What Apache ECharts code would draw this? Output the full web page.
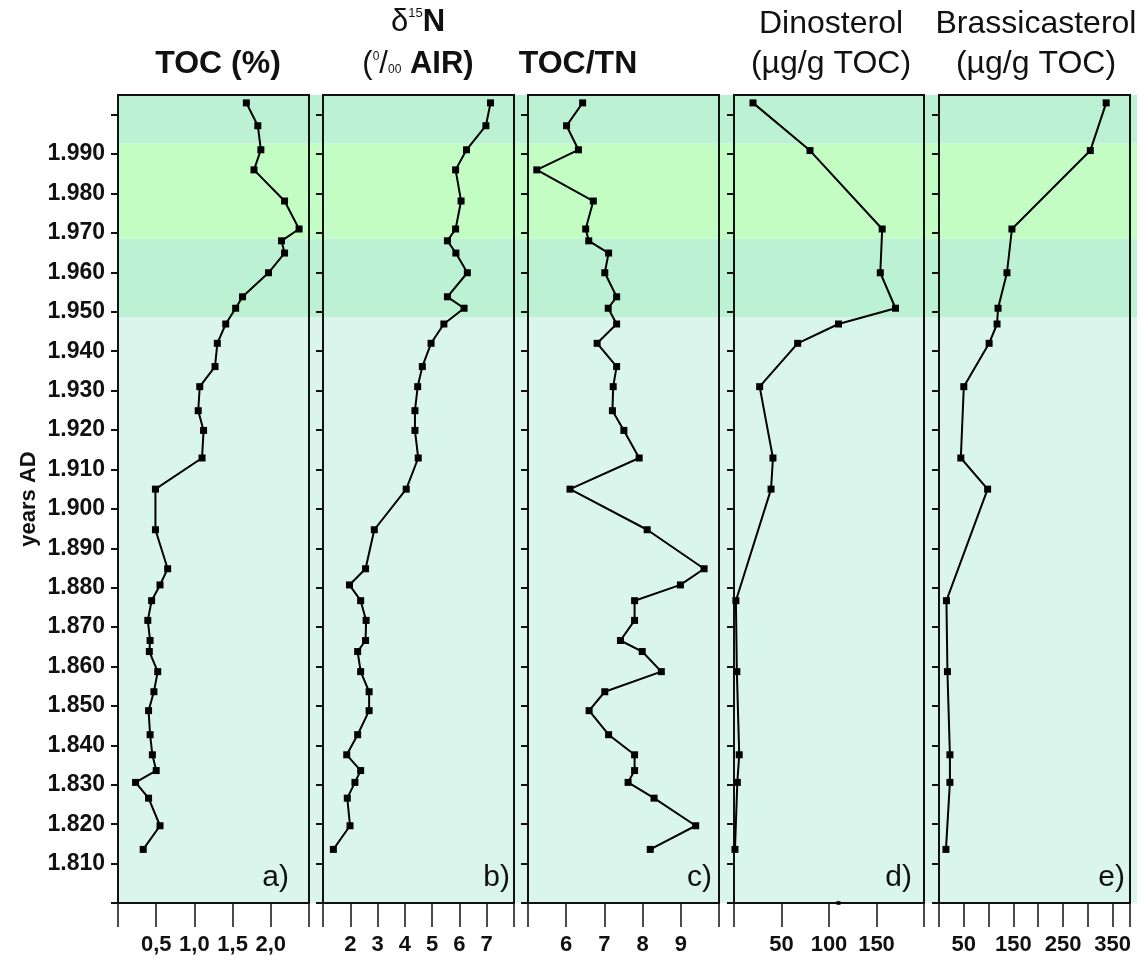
<!DOCTYPE html>
<html>
<head>
<meta charset="utf-8">
<title>Sediment core profiles</title>
<script src="https://cdn.jsdelivr.net/npm/echarts@6/dist/echarts.min.js"></script>
<style>
  html, body { margin: 0; padding: 0; background: #fff; }
  #chart { width: 1142px; height: 963px; }
</style>
</head>
<body>
<div id="chart"></div>
<script>
// sample years (AD) shared by panels a-c and by panels d-e
const yearsABC = [2003.0, 1997.2, 1991.1, 1986.0, 1978.1, 1971.0, 1968.0, 1964.9, 1959.9, 1953.8,
  1950.9, 1946.9, 1942.0, 1936.1, 1931.0, 1924.9, 1919.9, 1912.9, 1905.0, 1894.7,
  1884.8, 1880.7, 1876.7, 1871.7, 1866.6, 1863.8, 1858.7, 1853.6, 1848.8, 1842.7,
  1837.6, 1833.6, 1830.6, 1826.6, 1819.6, 1813.6];
const yearsDE = [2003.0, 1990.9, 1971.0, 1959.9, 1950.9, 1946.9, 1942.0, 1931.0, 1912.9, 1905.0,
  1876.7, 1858.7, 1837.6, 1830.6, 1813.6];

const toc = [1.68, 1.83, 1.87, 1.78, 2.18, 2.37, 2.14, 2.18, 1.97, 1.63,
  1.54, 1.41, 1.30, 1.27, 1.07, 1.05, 1.12, 1.10, 0.49, 0.49,
  0.65, 0.55, 0.44, 0.39, 0.42, 0.41, 0.52, 0.47, 0.40, 0.42,
  0.45, 0.50, 0.23, 0.40, 0.55, 0.33];
const d15N = [7.14, 6.97, 6.26, 5.86, 6.06, 5.86, 5.56, 5.87, 6.29, 5.56,
  6.17, 5.43, 4.96, 4.64, 4.47, 4.37, 4.37, 4.49, 4.05, 2.88,
  2.56, 1.97, 2.38, 2.58, 2.56, 2.27, 2.38, 2.69, 2.69, 2.27,
  1.87, 2.38, 2.17, 1.89, 1.99, 1.38];
const tocTn = [6.43, 6.01, 6.32, 5.23, 6.71, 6.51, 6.59, 7.11, 7.01, 7.32,
  7.10, 7.32, 6.81, 7.32, 7.23, 7.21, 7.51, 7.91, 6.10, 8.12,
  9.61, 8.99, 7.79, 7.79, 7.42, 7.99, 8.49, 7.01, 6.60, 7.11,
  7.79, 7.79, 7.62, 8.30, 9.39, 8.20];
const dinosterol = [20, 80, 156, 154, 170, 110, 67, 27, 41, 39, 2, 3, 5.5, 3.5, 1];
const brassicasterol = [337, 305, 147, 137, 119, 117, 101, 50, 44, 98, 15, 17, 22, 22, 14];
const dinoStray = [[110, 1800]];

// year ticks / labels
const yearTicks = [1800, 1810, 1820, 1830, 1840, 1850, 1860, 1870, 1880, 1890, 1900,
  1910, 1920, 1930, 1940, 1950, 1960, 1970, 1980, 1990, 2000];
const yearLabels = yearTicks.slice(1, -1);

// background period bands (top, bottom)
const bandEdges = [2005, 1992.6, 1968.5, 1948.7, 1800];
const bandColors = ['#bcf1d3', '#c3fdc3', '#bcf1d3', '#daf5eb'];

const FONT = "'Liberation Sans', Arial, sans-serif";

const panels = [
  { left: 118, width: 191, min: 0, max: 2.5, ticks: [0, 0.5, 1, 1.5, 2, 2.5], labels: [0.5, 1, 1.5, 2],
    fmt: v => v.toFixed(1).replace('.', ','), years: yearsABC, values: toc },
  { left: 323, width: 191, min: 1, max: 8, ticks: [1, 2, 3, 4, 5, 6, 7, 8], labels: [2, 3, 4, 5, 6, 7],
    fmt: v => String(v), years: yearsABC, values: d15N },
  { left: 528, width: 191, min: 5, max: 10, ticks: [5, 6, 7, 8, 9, 10], labels: [6, 7, 8, 9],
    fmt: v => String(v), years: yearsABC, values: tocTn },
  { left: 734, width: 190, min: 0, max: 200, ticks: [0, 50, 100, 150, 200], labels: [50, 100, 150],
    fmt: v => String(v), years: yearsDE, values: dinosterol },
  { left: 939, width: 191, min: 0, max: 385, ticks: [0, 50, 100, 150, 200, 250, 300, 350, 385], labels: [50, 150, 250, 350],
    fmt: v => String(v), years: yearsDE, values: brassicasterol },
];

const chart = echarts.init(document.getElementById('chart'), null, { renderer: 'canvas' });

const grid = [];
const xAxis = [];
const yAxis = [];
const series = [];

panels.forEach((p, i) => {
  grid.push({
    left: p.left, width: p.width, top: 95, bottom: 60, z: 4,
    show: true, borderColor: '#111', borderWidth: 2, backgroundColor: 'transparent',
  });
  xAxis.push({
    type: 'value', gridIndex: i, min: p.min, max: p.max, position: 'bottom',
    axisLine: { show: true, onZero: false, lineStyle: { color: '#111', width: 2 } },
    axisTick: { show: true, inside: false, length: 24, customValues: p.ticks, lineStyle: { color: '#111', width: 1.5 } },
    axisLabel: {
      show: true, customValues: p.labels, margin: 31, formatter: p.fmt,
      color: '#111', fontFamily: FONT, fontWeight: 'bold', fontSize: 22,
    },
    splitLine: { show: false },
  });
  yAxis.push({
    type: 'value', gridIndex: i, min: 1800, max: 2005,
    axisLine: { show: true, lineStyle: { color: '#111', width: 2 } },
    axisTick: { show: true, inside: false, length: 7, customValues: yearTicks, lineStyle: { color: '#111', width: 2 } },
    axisLabel: {
      show: i === 0, customValues: yearLabels, margin: 13,
      formatter: v => '1.' + String(v).slice(1),
      color: '#111', fontFamily: FONT, fontWeight: 'bold', fontSize: 23,
    },
    splitLine: { show: false },
    name: i === 0 ? 'years AD' : '',
    nameLocation: 'middle', nameGap: 78, nameRotate: 90,
    nameTextStyle: { color: '#111', fontFamily: FONT, fontWeight: 'bold', fontSize: 22 },
  });
  series.push({
    type: 'line', xAxisIndex: i, yAxisIndex: i, z: 5,
    data: p.values.map((v, k) => [v, p.years[k]]),
    symbol: 'rect', symbolSize: 7, showSymbol: true,
    lineStyle: { color: '#000', width: 2 },
    itemStyle: { color: '#000' },
    animation: false,
  });
});

// stray marker sitting on the Dinosterol baseline
series.push({
  type: 'scatter', xAxisIndex: 3, yAxisIndex: 3, z: 6,
  data: dinoStray, symbol: 'rect', symbolSize: 4,
  itemStyle: { color: '#000' }, animation: false,
});

// background bands across all panels
grid.push({ left: 118, right: 5, top: 95, bottom: 60, show: false });
xAxis.push({ type: 'value', gridIndex: 5, min: 0, max: 1, show: false });
yAxis.push({ type: 'value', gridIndex: 5, min: 1800, max: 2005, show: false });
series.push({
  type: 'line', xAxisIndex: 5, yAxisIndex: 5, data: [], z: 0, silent: true,
  markArea: {
    silent: true, z: 0,
    data: bandColors.map((c, k) => [
      { yAxis: bandEdges[k], itemStyle: { color: c } },
      { yAxis: bandEdges[k + 1] },
    ]),
  },
});

const headStyle = { fontFamily: FONT, fontSize: 32, fill: '#111', align: 'center', verticalAlign: 'middle' };

const graphic = [
  { type: 'text', x: 218, y: 64, style: Object.assign({}, headStyle, { text: 'TOC (%)', fontWeight: 'bold' }) },
  { type: 'text', x: 418, y: 22, style: Object.assign({}, headStyle, {
      text: '{n|δ}{s|15}{b|N}',
      rich: {
        n: { fontFamily: FONT, fontSize: 31, fill: '#111' },
        s: { fontFamily: FONT, fontSize: 13, fill: '#111', verticalAlign: 'top', padding: [0, 0, 12, 0] },
        b: { fontFamily: FONT, fontSize: 31, fontWeight: 'bold', fill: '#111' },
      } }) },
  { type: 'text', x: 418, y: 64, style: Object.assign({}, headStyle, {
      text: '{n|(}{s|0}{n|/}{u|00}{b| AIR)}',
      rich: {
        n: { fontFamily: FONT, fontSize: 31, fill: '#111' },
        s: { fontFamily: FONT, fontSize: 12, fill: '#111', padding: [0, 0, 14, 0] },
        u: { fontFamily: FONT, fontSize: 12, fill: '#111', padding: [12, 0, 0, 0] },
        b: { fontFamily: FONT, fontSize: 31, fontWeight: 'bold', fill: '#111' },
      } }) },
  { type: 'text', x: 578, y: 64, style: Object.assign({}, headStyle, { text: 'TOC/TN', fontWeight: 'bold' }) },
  { type: 'text', x: 831, y: 24, style: Object.assign({}, headStyle, { text: 'Dinosterol' }) },
  { type: 'text', x: 831, y: 64, style: Object.assign({}, headStyle, { text: '(µg/g TOC)' }) },
  { type: 'text', x: 1036, y: 24, style: Object.assign({}, headStyle, { text: 'Brassicasterol' }) },
  { type: 'text', x: 1036, y: 64, style: Object.assign({}, headStyle, { text: '(µg/g TOC)' }) },
];

// panel letters
const letterPos = [[289, 878], [510, 878], [712, 878], [912, 878], [1125, 878]];
['a)', 'b)', 'c)', 'd)', 'e)'].forEach((t, k) => {
  graphic.push({
    type: 'text', x: letterPos[k][0], y: letterPos[k][1], z: 10,
    style: { text: t, fontFamily: FONT, fontSize: 30, fill: '#111', align: 'right', verticalAlign: 'middle' },
  });
});

chart.setOption({
  backgroundColor: '#fff',
  animation: false,
  grid, xAxis, yAxis, series, graphic,
});

window.addEventListener('resize', () => {
  chart.resize();
});
</script>
</body>
</html>
